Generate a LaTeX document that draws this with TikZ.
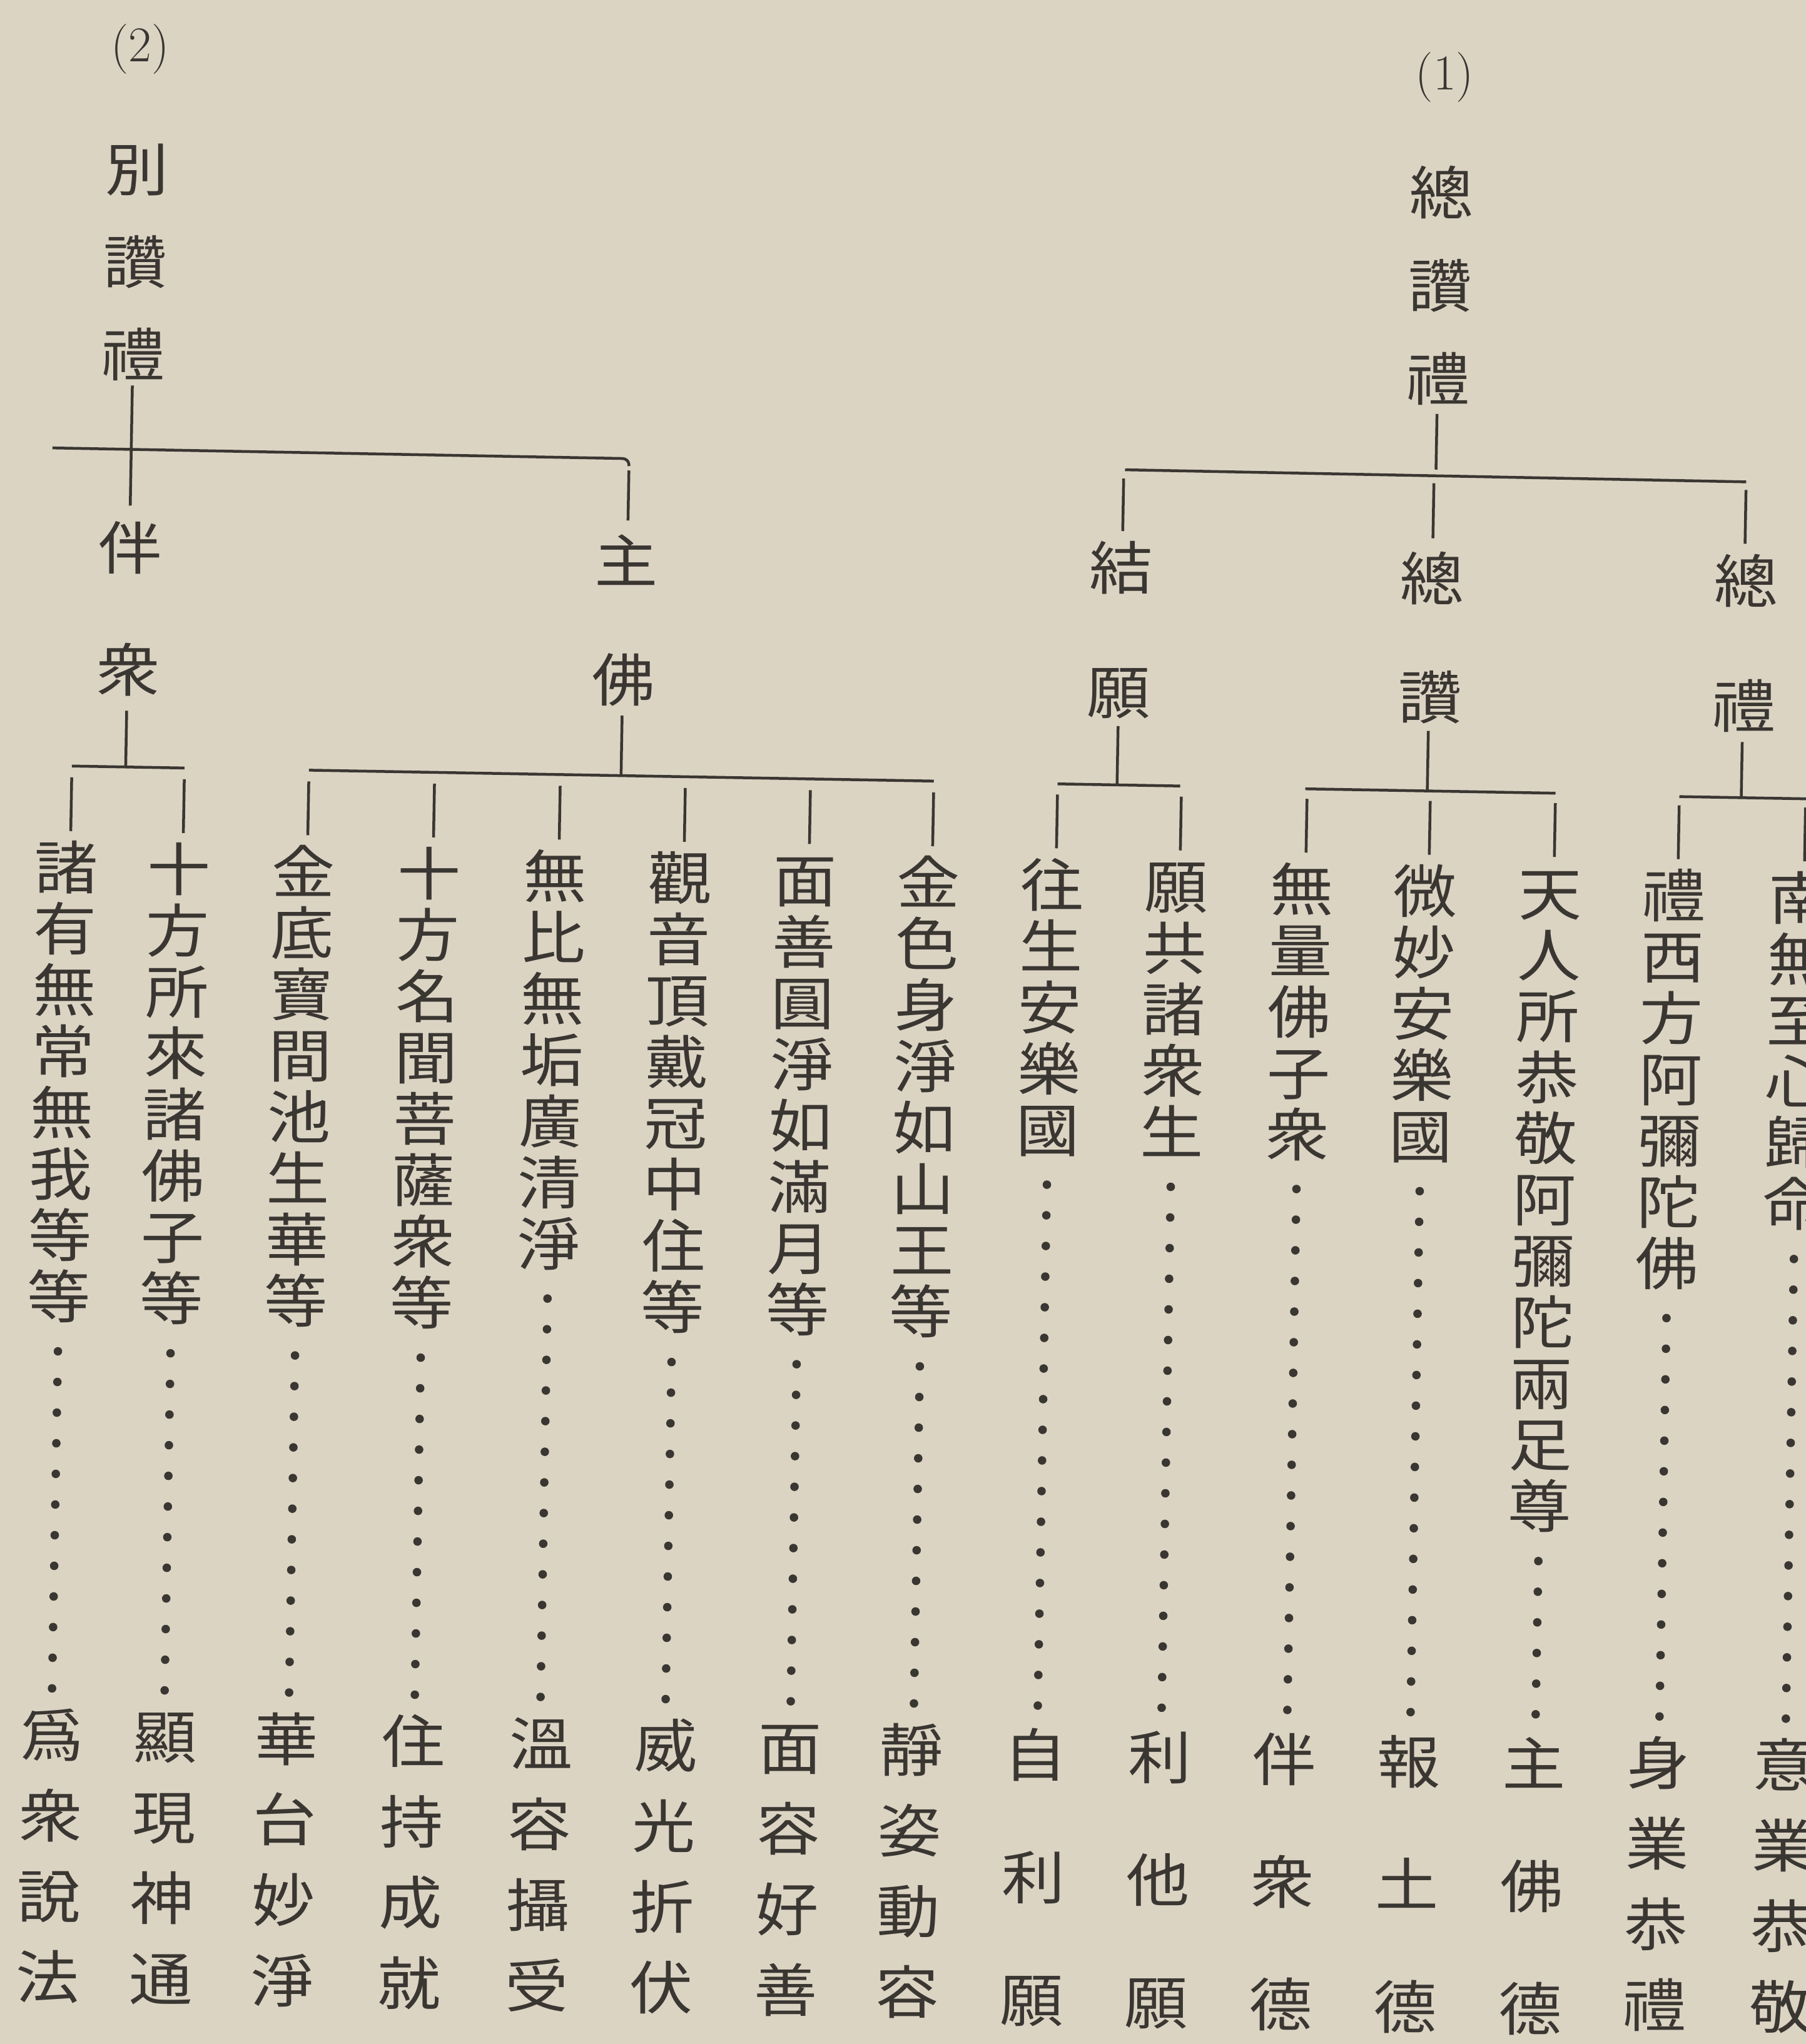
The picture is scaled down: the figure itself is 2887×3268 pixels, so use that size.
\documentclass[tikz,border=0pt]{standalone}
\usepackage{fontspec}
\usetikzlibrary{calc,decorations.markings}
\newfontfamily\cjk[FakeStretch=1.1]{Noto Sans CJK JP}
\definecolor{paper}{RGB}{220,212,195}
\definecolor{ink}{RGB}{58,54,50}
\tikzset{
  ln/.style={draw=ink, line width=4.5pt},
  leader/.style={decorate, decoration={markings, mark=between positions 0 and 1 step 49pt with {\fill[ink] (0,0) circle[radius=6.8pt];}}},
  ch/.style={font=\cjk\fontsize{92}{92}\selectfont, text=ink, inner sep=0pt, text height=81pt, text depth=11pt},
  num/.style={font=\fontsize{80}{80}\selectfont, text=ink, inner sep=0pt}
}
\newcommand\vtext[5]{\foreach \cc [count=\i] in {#5}{\node[ch] (#1-\i) at (#2,{#3+(\i-1)*#4}) {\cc};}}
\begin{document}
\begin{tikzpicture}[x=1pt,y=-1pt]
\fill[paper] (0,0) rectangle (2887,3268);
\useasboundingbox (0,0) rectangle (2887,3268);
\clip (0,0) rectangle (2887,3268);
\begin{scope}[rotate around={-1:(1443,1634)}]
\coordinate (dotend) at (0,2735);
% numbers
\node[num] (n2) at (197,100) {(2)};
\node[num] (n1) at (2283,109) {(1)};
% titles
\vtext{tl}{195}{292}{148}{別,讚,禮}
\vtext{tr}{2281}{293}{149}{總,讚,禮}
% second level
\vtext{bz}{195}{897}{195}{伴,衆}
\vtext{zf}{988}{904}{190}{主,佛}
\vtext{jy}{1779}{902}{199}{結,願}
\vtext{zz}{2277}{910}{190}{總,讚}
\vtext{zl}{2779}{905}{200}{總,禮}
% columns
\vtext{c1}{102}{1410}{98}{諸,有,無,常,無,我,等,等}
\vtext{c2}{282}{1410}{98}{十,方,所,來,諸,佛,子,等}
\vtext{c3}{481}{1410}{98}{金,底,寶,間,池,生,華,等}
\vtext{c4}{682}{1410}{98}{十,方,名,聞,菩,薩,衆,等}
\vtext{c5}{883}{1410}{98}{無,比,無,垢,廣,清,淨}
\vtext{c6}{1083}{1410}{98}{觀,音,頂,戴,冠,中,住,等}
\vtext{c7}{1283}{1410}{98}{面,善,圓,淨,如,滿,月,等}
\vtext{c8}{1480}{1410}{98}{金,色,身,淨,如,山,王,等}
\vtext{c9}{1678}{1410}{98}{往,生,安,樂,國}
\vtext{c10}{1876}{1410}{98}{願,共,諸,衆,生}
\vtext{c11}{2077}{1410}{98}{無,量,佛,子,衆}
\vtext{c12}{2274}{1410}{98}{微,妙,安,樂,國}
\vtext{c13}{2474}{1410}{98}{天,人,所,恭,敬,阿,彌,陀,兩,足,尊}
\vtext{c14}{2672}{1410}{98}{禮,西,方,阿,彌,陀,佛}
\vtext{c15}{2874}{1410}{98}{南,無,至,心,歸,命}
% bottom labels
\vtext{l1}{103}{2797}{129}{爲,衆,說,法}
\vtext{l2}{284}{2797}{129}{顯,現,神,通}
\vtext{l3}{478}{2797}{129}{華,台,妙,淨}
\vtext{l4}{681}{2797}{129}{住,持,成,就}
\vtext{l5}{885}{2797}{129}{溫,容,攝,受}
\vtext{l6}{1084}{2797}{129}{威,光,折,伏}
\vtext{l7}{1283}{2797}{129}{面,容,好,善}
\vtext{l8}{1477}{2797}{129}{靜,姿,動,容}
\vtext{l9}{1676}{2802}{196}{自,利,願}
\vtext{l10}{1875}{2802}{196}{利,他,願}
\vtext{l11}{2074}{2802}{196}{伴,衆,德}
\vtext{l12}{2273}{2802}{196}{報,土,德}
\vtext{l13}{2473}{2802}{196}{主,佛,德}
\vtext{l14}{2672}{2797}{129}{身,業,恭,禮}
\vtext{l15}{2874}{2797}{129}{意,業,恭,敬}
% ---- tree (2)
\draw[ln] (tl-3.center) ++(-1,50) -- ++(0,192);
\draw[ln] (68,740) -- (978,741) .. controls (986,741) and (990,745) .. (990,753);
\draw[ln] (zf-1.center) ++(2,-144) -- ++(0,80);
\draw[ln] (bz-2.center) ++(-1,66) -- ++(0,90);
\draw[ln] (108,1248) -- (288,1248);
\draw[ln] (zf-2.center) ++(-2,58) -- ++(0,96);
\draw[ln] (487,1248) -- (1486,1248);
% ---- tree (1)
\draw[ln] (tr-3.center) ++(-1,56) -- ++(0,89);
\draw[ln] (1783,745) -- (2776,747);
\draw[ln] (jy-1.center) ++(2,-143) -- ++(0,84);
\draw[ln] (zz-1.center) ++(0,-152) -- ++(0,88);
\draw[ln] (zl-1.center) ++(-3,-145) -- ++(0,86);
\draw[ln] (jy-2.center) ++(0,54) -- ++(0,95);
\draw[ln] (1684,1249) -- (1880,1249);
\draw[ln] (zz-2.center) ++(-2,54) -- ++(0,96);
\draw[ln] (2080,1250) -- (2480,1250);
\draw[ln] (zl-2.center) ++(-2,58) -- ++(0,89);
\draw[ln] (2678,1252) -- (2930,1252);
% column ticks
\foreach \k in {c1,c2,c3,c4,c5,c6,c7,c8,c9,c10,c11,c12,c13,c14,c15}
  {\draw[ln] (\k-1.center) ++(6,-144) -- ++(0,86);}
% leaders
\path[leader] (c1-8.center) ++(0,88) -- (c1-8.center |- dotend);
\path[leader] (c2-8.center) ++(0,88) -- (c2-8.center |- dotend);
\path[leader] (c3-8.center) ++(0,88) -- (c3-8.center |- dotend);
\path[leader] (c4-8.center) ++(0,88) -- (c4-8.center |- dotend);
\path[leader] (c5-7.center) ++(0,88) -- (c5-7.center |- dotend);
\path[leader] (c6-8.center) ++(0,88) -- (c6-8.center |- dotend);
\path[leader] (c7-8.center) ++(0,88) -- (c7-8.center |- dotend);
\path[leader] (c8-8.center) ++(0,88) -- (c8-8.center |- dotend);
\path[leader] (c9-5.center) ++(0,88) -- (c9-5.center |- dotend);
\path[leader] (c10-5.center) ++(0,88) -- (c10-5.center |- dotend);
\path[leader] (c11-5.center) ++(0,88) -- (c11-5.center |- dotend);
\path[leader] (c12-5.center) ++(0,88) -- (c12-5.center |- dotend);
\path[leader] (c13-11.center) ++(0,88) -- (c13-11.center |- dotend);
\path[leader] (c14-7.center) ++(0,88) -- (c14-7.center |- dotend);
\path[leader] (c15-6.center) ++(0,88) -- (c15-6.center |- dotend);
\end{scope}
\end{tikzpicture}
\end{document}
